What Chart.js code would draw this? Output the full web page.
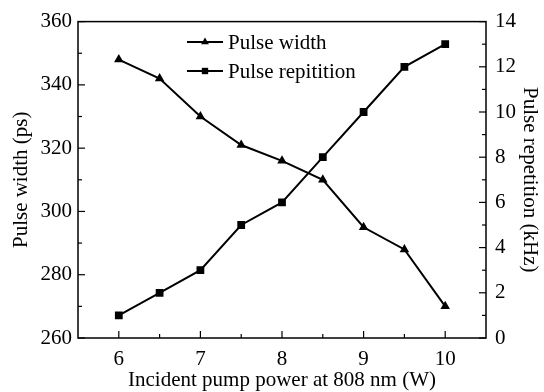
<!DOCTYPE html>
<html>
<head>
<meta charset="utf-8">
<script src="https://cdn.jsdelivr.net/npm/chart.js@4.4.1/dist/chart.umd.min.js"></script>
<style>
  html, body { margin: 0; padding: 0; background: #fff; }
  #wrap { width: 544px; height: 392px; }
</style>
</head>
<body>
<div id="wrap"><canvas id="c"></canvas></div>
<script>
// data
var power = [6, 6.5, 7, 7.5, 8, 8.5, 9, 9.5, 10];
var pulseWidth = [348, 342, 330, 321, 316, 310, 295, 288, 270];
var pulseRep = [1, 2, 3, 5, 6, 8, 10, 12, 13];
var xTicks = [6, 7, 8, 9, 10];
var xMinor = [6.5, 7.5, 8.5, 9.5];
var yLeftTicks = [260, 280, 300, 320, 340, 360];
var yLeftMinor = [270, 290, 310, 330, 350];
var yRightTicks = [0, 2, 4, 6, 8, 10, 12, 14];
var yRightMinor = [1, 3, 5, 7, 9, 11, 13];

var FONT = 'Liberation Serif, Times New Roman, serif';
var FSIZE = 21;

function toPts(xs, ys) {
    return xs.map(function (x, i) { return { x: x, y: ys[i] }; });
}

function marker(ctx, style, x, y, r) {
    ctx.beginPath();
    if (style === 'triangle') {
        ctx.moveTo(x, y - r);
        ctx.lineTo(x + r * 0.866, y + r * 0.5);
        ctx.lineTo(x - r * 0.866, y + r * 0.5);
        ctx.closePath();
    } else {
        var s = r * Math.SQRT1_2;
        ctx.rect(x - s, y - s, 2 * s, 2 * s);
    }
    ctx.fill();
}

// box around the plot + inward ticks
var framePlugin = {
    id: 'frame',
    afterDatasetsDraw: function (chart) {
        var ctx = chart.ctx, a = chart.chartArea;
        var sx = chart.scales.x, yl = chart.scales.y, yr = chart.scales.y1;
        ctx.save();
        ctx.strokeStyle = '#000';
        ctx.lineWidth = 1.5;
        ctx.strokeRect(a.left, a.top, a.right - a.left, a.bottom - a.top);
        ctx.lineWidth = 1.2;
        function tick(x1, y1, x2, y2) {
            ctx.beginPath(); ctx.moveTo(x1, y1); ctx.lineTo(x2, y2); ctx.stroke();
        }
        xTicks.forEach(function (v) { var p = sx.getPixelForValue(v); tick(p, a.bottom, p, a.bottom - 7); });
        xMinor.forEach(function (v) { var p = sx.getPixelForValue(v); tick(p, a.bottom, p, a.bottom - 4); });
        yLeftTicks.forEach(function (v) { var p = yl.getPixelForValue(v); tick(a.left, p, a.left + 7, p); });
        yLeftMinor.forEach(function (v) { var p = yl.getPixelForValue(v); tick(a.left, p, a.left + 4, p); });
        yRightTicks.forEach(function (v) { var p = yr.getPixelForValue(v); tick(a.right, p, a.right - 7, p); });
        yRightMinor.forEach(function (v) { var p = yr.getPixelForValue(v); tick(a.right, p, a.right - 4, p); });
        ctx.restore();
    }
};

// legend with line + marker inside the plot
var legendPlugin = {
    id: 'lineLegend',
    afterDatasetsDraw: function (chart) {
        var ctx = chart.ctx;
        ctx.save();
        chart.data.datasets.forEach(function (ds, i) {
            var y = 42 + i * 29;
            var x0 = 187, x1 = 223;
            ctx.strokeStyle = '#000';
            ctx.fillStyle = '#000';
            ctx.lineWidth = 2;
            ctx.beginPath(); ctx.moveTo(x0, y); ctx.lineTo(x1, y); ctx.stroke();
            marker(ctx, ds.pointStyle, (x0 + x1) / 2, y, 4.5);
            ctx.font = FSIZE + 'px ' + FONT;
            ctx.textBaseline = 'middle';
            ctx.textAlign = 'left';
            ctx.fillText(ds.label, 228, y + 1);
        });
        ctx.restore();
    }
};

new Chart(document.getElementById('c'), {
    type: 'line',
    data: {
        datasets: [{
            label: 'Pulse width',
            data: toPts(power, pulseWidth),
            yAxisID: 'y',
            borderColor: '#000',
            backgroundColor: '#000',
            borderWidth: 2,
            pointStyle: 'triangle',
            pointRadius: 5.5,
            pointBorderWidth: 0,
            tension: 0
        }, {
            label: 'Pulse repitition',
            data: toPts(power, pulseRep),
            yAxisID: 'y1',
            borderColor: '#000',
            backgroundColor: '#000',
            borderWidth: 2,
            pointStyle: 'rect',
            pointRadius: 5.5,
            pointBorderWidth: 0,
            tension: 0
        }]
    },
    options: {
        responsive: true,
        maintainAspectRatio: false,
        animation: false,
        layout: { padding: { top: 21, left: 0, right: 0, bottom: 0 } },
        plugins: {
            legend: { display: false },
            tooltip: { enabled: false }
        },
        scales: {
            x: {
                type: 'linear',
                min: 5.5,
                max: 10.5,
                grid: { display: false, drawTicks: false },
                border: { display: false },
                afterBuildTicks: function (s) { s.ticks = xTicks.map(function (v) { return { value: v }; }); },
                afterFit: function (s) { s.height = 54; },
                ticks: { color: '#000', padding: 9, font: { family: FONT, size: FSIZE } },
                title: {
                    display: true,
                    text: 'Incident pump power at 808 nm (W)',
                    color: '#000',
                    padding: { top: 0, bottom: -1 },
                    font: { family: FONT, size: FSIZE }
                }
            },
            y: {
                position: 'left',
                min: 260,
                max: 360,
                grid: { display: false, drawTicks: false },
                border: { display: false },
                afterBuildTicks: function (s) { s.ticks = yLeftTicks.map(function (v) { return { value: v }; }); },
                afterFit: function (s) { s.width = 78; },
                ticks: { color: '#000', padding: 6, font: { family: FONT, size: FSIZE } },
                title: {
                    display: true,
                    text: 'Pulse width (ps)',
                    color: '#000',
                    padding: { top: 9, bottom: 0 },
                    font: { family: FONT, size: FSIZE }
                }
            },
            y1: {
                position: 'right',
                min: 0,
                max: 14,
                grid: { display: false, drawTicks: false },
                border: { display: false },
                afterBuildTicks: function (s) { s.ticks = yRightTicks.map(function (v) { return { value: v }; }); },
                afterFit: function (s) { s.width = 58; },
                ticks: { color: '#000', padding: 9, font: { family: FONT, size: FSIZE } },
                title: {
                    display: true,
                    text: 'Pulse repetition (kHz)',
                    color: '#000',
                    padding: { top: 2, bottom: 0 },
                    font: { family: FONT, size: FSIZE }
                }
            }
        }
    },
    plugins: [framePlugin, legendPlugin]
});
</script>
</body>
</html>
